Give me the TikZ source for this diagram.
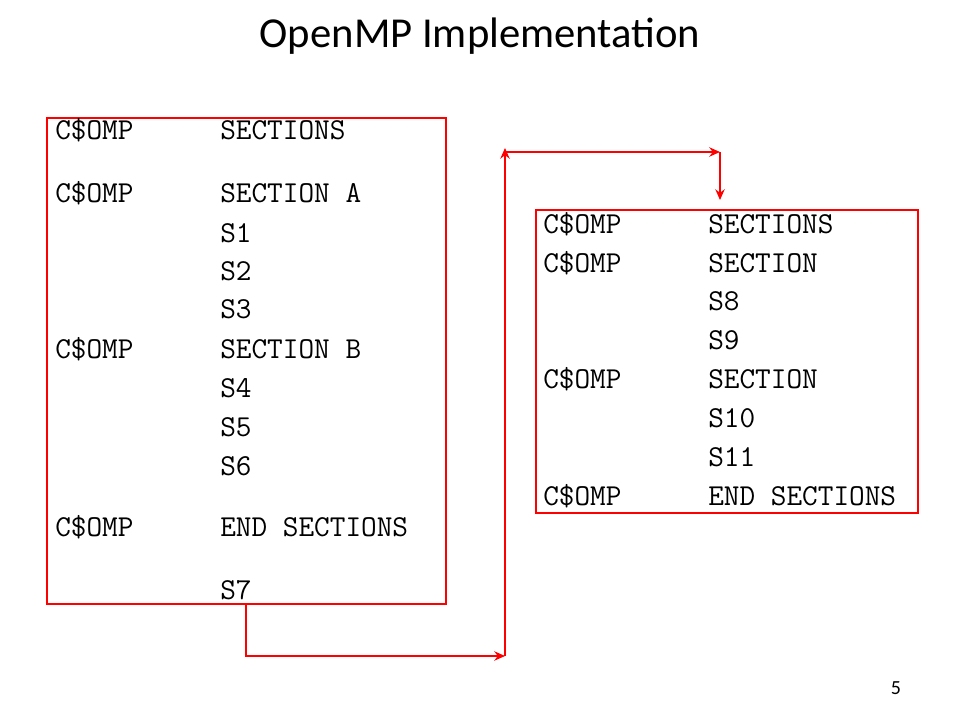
\documentclass[tikz,border=0pt]{standalone}
\usepackage{fontspec}
\setmainfont{Carlito}
\usetikzlibrary{arrows.meta}
\begin{document}
\begin{tikzpicture}[x=0.75pt,y=-0.75pt,
  code/.style={font=\ttfamily\fontsize{22.8}{24}\selectfont, anchor=west, inner sep=0pt},
  box/.style={draw=red, line width=1.6pt, inner sep=0pt},
  link/.style={draw=red, line width=1.8pt, -{Stealth[length=8pt,width=7pt]}}]
\useasboundingbox (0,0) rectangle (960,720);
\node[font=\fontsize{32}{36}\selectfont] (title) at (480,36) {OpenMP Implementation};
\node[box, minimum width=399*0.75pt, minimum height=486*0.75pt, anchor=north west] (L) at (46,117) {};
\node[box, minimum width=382*0.75pt, minimum height=303*0.75pt, anchor=north west] (R) at (535,209) {};
\foreach \y/\a/\b [count=\i] in {130/C\$OMP/SECTIONS, 193/C\$OMP/SECTION A, 233//S1, 271//S2, 309//S3, 349/C\$OMP/SECTION B, 388//S4, 427//S5, 466//S6, 527/C\$OMP/END SECTIONS, 590//S7}{
  \node[code] (la\i) at (55,\y) {\a};
  \node[code] (lb\i) at (220,\y) {\b};
}
\foreach \y/\a/\b [count=\i] in {224/C\$OMP/SECTIONS, 263/C\$OMP/SECTION, 301//S8, 340//S9, 379/C\$OMP/SECTION, 418//S10, 457//S11, 496/C\$OMP/END SECTIONS}{
  \node[code] (ra\i) at (543,\y) {\a};
  \node[code] (rb\i) at (708,\y) {\b};
}
\coordinate (p1) at (246,603);
\coordinate (p2) at (246,656);
\coordinate (p3) at (505,656);
\coordinate (p4) at (505,148);
\coordinate (p5) at (505,152);
\coordinate (p6) at (720,152);
\coordinate (p7) at (720,200);
\draw[link] (p1) -- (p2) -- (p3);
\draw[link] (p3) -- (p4);
\draw[link] (p5) -- (p6);
\draw[link] (p6) -- (p7);
\node[font=\fontsize{15}{17}\selectfont] (pg) at (896,688) {5};
\end{tikzpicture}
\end{document}
